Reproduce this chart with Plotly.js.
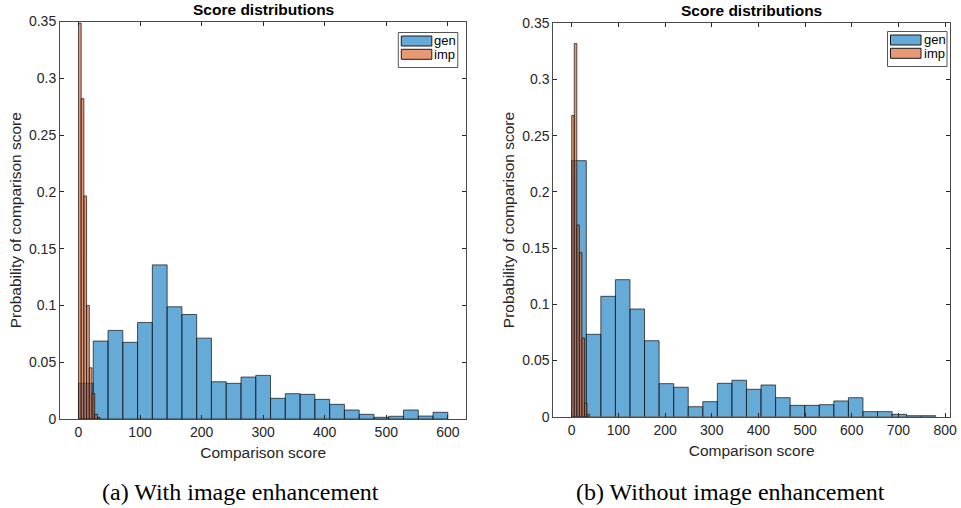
<!DOCTYPE html>
<html>
<head>
<meta charset="utf-8">
<script src="https://cdn.plot.ly/plotly-3.0.1.min.js"></script>
<style>
html,body{margin:0;padding:0;background:#fff;}
#chart{width:961px;height:508px;}
</style>
</head>
<body>
<div id="chart"></div>
<script>
// ---- Data ----
// (a) With image enhancement
var leftGenBinWidth = 24;
var leftGenProb = [0.0314,0.0686,0.078,0.0675,0.085,0.1357,0.0988,0.092,0.0712,0.0328,0.0314,0.0369,0.0384,0.0182,0.0223,0.0217,0.0173,0.0129,0.0079,0.0041,0.0015,0.0024,0.0079,0.0026,0.0059];
var leftImpBinWidth = 4.4;
var leftImpProb = [0.3485,0.282,0.1964,0.1,0.0451,0.0223,0.0041,0.0015];
// (b) Without image enhancement
var rightGenBinWidth = 31.2;
var rightGenProb = [0.2278,0.0733,0.1071,0.1219,0.0958,0.0676,0.0294,0.0262,0.0089,0.0134,0.0297,0.0324,0.0244,0.0282,0.0169,0.0101,0.0101,0.0107,0.014,0.0169,0.0045,0.0045,0.0021,0.0009,0.0009];
var rightImpBinWidth = 5.45;
var rightImpProb = [0.268,0.332,0.1705,0.146,0.07,0.012,0.002];

var leftXTicks = [0,100,200,300,400,500,600];
var rightXTicks = [0,100,200,300,400,500,600,700,800];
var yTicks = [0,0.05,0.1,0.15,0.2,0.25,0.3,0.35];
var yTickText = ['0','0.05','0.1','0.15','0.2','0.25','0.3','0.35'];
var seriesNames = ['gen','imp'];
var chartTitle = 'Score distributions';
var xTitle = 'Comparison score';
var yTitle = 'Probability of comparison score';
var captions = ['(a) With image enhancement','(b) Without image enhancement'];

// ---- Helpers ----
function centers(n, w){ var c=[]; for(var i=0;i<n;i++){ c.push(w*(i+0.5)); } return c; }
var W=961,H=508;
function px(x){return x/W;}
function py(y){return 1-y/H;}

var genFill='rgba(0,114,189,0.6)';
var impFill='rgba(217,83,25,0.6)';
var edge={color:'rgba(20,20,20,0.9)',width:0.8};
var FONT='"Liberation Sans", Arial, Helvetica, sans-serif';
var axCol='#262626';

function barTrace(prob,w,fill,name,xa,ya){
  return {type:'bar',x:centers(prob.length,w),y:prob,width:w,name:name,
    marker:{color:fill,line:edge},xaxis:xa,yaxis:ya,showlegend:false,hoverinfo:'x+y'};
}

var data=[
  barTrace(leftGenProb,leftGenBinWidth,genFill,seriesNames[0],'x','y'),
  barTrace(leftImpProb,leftImpBinWidth,impFill,seriesNames[1],'x','y'),
  barTrace(rightGenProb,rightGenBinWidth,genFill,seriesNames[0],'x2','y2'),
  barTrace(rightImpProb,rightImpBinWidth,impFill,seriesNames[1],'x2','y2')
];

function xAxis(dom,range,ticks,anchor){
  return {domain:dom,range:range,anchor:anchor,tickvals:ticks,ticktext:ticks.map(String),
    ticks:'inside',ticklen:4,tickcolor:axCol,showline:true,linecolor:'#4a4a4a',linewidth:1,mirror:'ticks',
    showgrid:false,zeroline:false,tickfont:{family:FONT,size:14,color:axCol},
    title:{text:xTitle,font:{family:FONT,size:15.5,color:axCol},standoff:8}};
}
function yAxis(dom,anchor){
  return {domain:dom,range:[0,0.35],anchor:anchor,tickvals:yTicks,ticktext:yTickText,
    ticks:'inside',ticklen:4,tickcolor:axCol,showline:true,linecolor:'#4a4a4a',linewidth:1,mirror:'ticks',
    showgrid:false,zeroline:false,tickfont:{family:FONT,size:14,color:axCol},
    title:{text:yTitle,font:{family:FONT,size:15.5,color:axCol},standoff:3}};
}

var L={x0:60,x1:466.3,y0:21.5,y1:419};
var R={x0:553.3,x1:950,y0:23.3,y1:416.7};

var shapes=[],annotations=[];
function legend(bx0,by0){
  shapes.push({type:'rect',xref:'paper',yref:'paper',x0:px(bx0),x1:px(bx0+59.5),y0:py(by0),y1:py(by0+35),
    line:{color:'#555',width:1},fillcolor:'#fff',layer:'above'});
  var cols=[genFill,impFill];
  for(var i=0;i<2;i++){
    var ty=by0+3.5+i*13.3;
    shapes.push({type:'rect',xref:'paper',yref:'paper',x0:px(bx0+3),x1:px(bx0+33.5),y0:py(ty),y1:py(ty+10),
      line:{color:'#1a1a1a',width:1},fillcolor:cols[i],layer:'above'});
    annotations.push({xref:'paper',yref:'paper',x:px(bx0+34),y:py(ty+5),text:seriesNames[i],showarrow:false,
      xanchor:'left',yanchor:'middle',font:{family:FONT,size:13,color:'#000'}});
  }
}
legend(398.3,32.5);
legend(887.5,31.5);

annotations.push({xref:'paper',yref:'paper',x:px((L.x0+L.x1)/2),y:py(10),text:chartTitle,showarrow:false,
  xanchor:'center',yanchor:'middle',font:{family:FONT,size:15.5,color:'#000',weight:'bold'}});
annotations.push({xref:'paper',yref:'paper',x:px((R.x0+R.x1)/2),y:py(11),text:chartTitle,showarrow:false,
  xanchor:'center',yanchor:'middle',font:{family:FONT,size:15.5,color:'#000',weight:'bold'}});
annotations.push({xref:'paper',yref:'paper',x:px(240),y:py(492),text:captions[0],showarrow:false,
  xanchor:'center',yanchor:'middle',font:{family:'"Liberation Serif", "Times New Roman", serif',size:24,color:'#000'}});
annotations.push({xref:'paper',yref:'paper',x:px(730.5),y:py(492),text:captions[1],showarrow:false,
  xanchor:'center',yanchor:'middle',font:{family:'"Liberation Serif", "Times New Roman", serif',size:24,color:'#000'}});

var layout={
  width:W,height:H,margin:{l:0,r:0,t:0,b:0},paper_bgcolor:'#fff',plot_bgcolor:'#fff',
  barmode:'overlay',bargap:0,showlegend:false,
  xaxis:xAxis([px(L.x0),px(L.x1)],[-30,630],leftXTicks,'y'),
  yaxis:yAxis([py(L.y1),py(L.y0)],'x'),
  xaxis2:xAxis([px(R.x0),px(R.x1)],[-39.5,810.5],rightXTicks,'y2'),
  yaxis2:yAxis([py(R.y1),py(R.y0)],'x2'),
  shapes:shapes,annotations:annotations
};

Plotly.newPlot('chart',data,layout,{displayModeBar:false,staticPlot:true});
</script>
</body>
</html>
